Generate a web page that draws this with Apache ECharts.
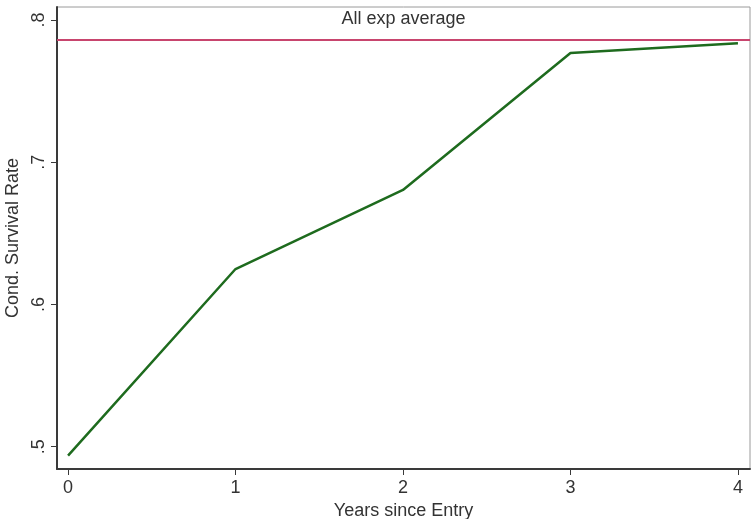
<!DOCTYPE html>
<html>
<head>
<meta charset="utf-8">
<script src="https://cdn.jsdelivr.net/npm/echarts@6/dist/echarts.min.js"></script>
<style>html,body{margin:0;padding:0;background:#fff;}#c{width:751px;height:519px;}</style>
</head>
<body>
<div id="c"></div>
<script>
var years = [0, 1, 2, 3, 4];
var survival = [0.4937, 0.6249, 0.6805, 0.7768, 0.7836];
var allExpAverage = 0.786;
var yTicks = [0.5, 0.6, 0.7, 0.8];
var yTickLabels = ['.5', '.6', '.7', '.8'];
var xTicks = [0, 1, 2, 3, 4];

var chart = echarts.init(document.getElementById('c'), null, {renderer: 'canvas'});
var font = 'Liberation Sans, Arial, sans-serif';
chart.setOption({
  animation: false,
  backgroundColor: '#fff',
  grid: {left: 57, right: 1, top: 7, bottom: 50, containLabel: false, outerBoundsMode: 'none',
    show: true, borderColor: '#9a9a9a', borderWidth: 1, backgroundColor: '#fff'},
  xAxis: {
    type: 'value', min: -0.066, max: 4.072,
    name: 'Years since Entry', nameLocation: 'middle', nameGap: 32,
    nameTextStyle: {fontFamily: font, fontSize: 18, color: '#333'},
    axisLine: {show: true, onZero: false, lineStyle: {color: '#3a3a3a', width: 2}},
    axisTick: {show: true, length: 6, customValues: xTicks, lineStyle: {color: '#3a3a3a', width: 1}},
    axisLabel: {customValues: xTicks, margin: 10, fontFamily: font, fontSize: 18, color: '#333'},
    splitLine: {show: false}
  },
  yAxis: {
    type: 'value', min: 0.4843, max: 0.8091,
    name: 'Cond. Survival Rate', nameLocation: 'middle', nameGap: 33, nameRotate: 90,
    nameTextStyle: {fontFamily: font, fontSize: 18, color: '#333'},
    axisLine: {show: true, onZero: false, lineStyle: {color: '#3a3a3a', width: 2}},
    axisTick: {show: true, length: 6, customValues: yTicks, lineStyle: {color: '#3a3a3a', width: 1}},
    axisLabel: {customValues: yTicks, rotate: 90, margin: 9, fontFamily: font, fontSize: 18, color: '#333',
      formatter: function (v) { var i = yTicks.indexOf(Math.round(v * 10) / 10); return i >= 0 ? yTickLabels[i] : ''; }},
    splitLine: {show: false}
  },
  series: [{
    type: 'line',
    data: years.map(function (x, i) { return [x, survival[i]]; }),
    symbol: 'none',
    lineStyle: {color: '#1e6b1e', width: 2.5},
    z: 3,
    markLine: {
      silent: true, symbol: 'none', precision: 4,
      lineStyle: {color: '#c8456e', width: 2, type: 'solid'},
      label: {show: true, position: 'middle', formatter: 'All exp average', distance: 12,
        fontFamily: font, fontSize: 18, color: '#333'},
      data: [{yAxis: allExpAverage}]
    }
  }]
});
</script>
</body>
</html>
